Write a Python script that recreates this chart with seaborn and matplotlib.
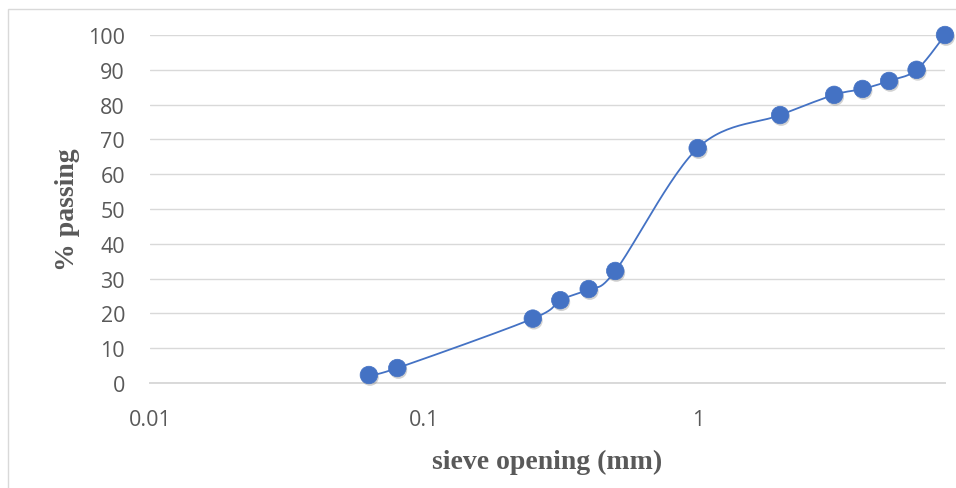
import numpy as np
import pandas as pd
import matplotlib
matplotlib.use('Agg')
import matplotlib.pyplot as plt
import matplotlib.patheffects as pe
from matplotlib.patches import Rectangle
from matplotlib.ticker import FixedLocator, FixedFormatter, NullLocator
import seaborn as sns

# sieve analysis data
sieve_mm = [0.063, 0.08, 0.25, 0.315, 0.4, 0.5, 1, 2, 3.15, 4, 5, 6.3, 8]
passing = [2.3, 4.3, 18.5, 23.8, 27.0, 32.2, 67.5, 77.0, 82.8, 84.5, 86.8, 90.0, 100.0]
xtick_vals = [0.01, 0.1, 1]
xtick_labels = ['0.01', '0.1', '1']
ytick_vals = list(range(0, 101, 10))

df = pd.DataFrame({'sieve': sieve_mm, 'passing': passing})

# smoothed connecting line (Catmull-Rom in log-x space, like Excel's smoothed line)
lx = np.log10(df['sieve'].values)
py = df['passing'].values
P = np.column_stack([lx, py])
P = np.vstack([P[0], P, P[-1]])
seg = []
t = np.linspace(0, 1, 30)[:, None]
for i in range(1, len(P) - 2):
    p0, p1, p2, p3 = P[i - 1], P[i], P[i + 1], P[i + 2]
    c = 0.5 * ((2 * p1) + (-p0 + p2) * t + (2 * p0 - 5 * p1 + 4 * p2 - p3) * t ** 2
               + (-p0 + 3 * p1 - 3 * p2 + p3) * t ** 3)
    seg.append(c)
curve = np.vstack(seg)
dfc = pd.DataFrame({'sieve': 10 ** curve[:, 0], 'passing': curve[:, 1]})

sns.set_style('white')
plt.rcParams['font.family'] = ['Open Sans', 'DejaVu Sans']

W, H = 956, 489
fig = plt.figure(figsize=(W / 100, H / 100), dpi=100)
ax = fig.add_axes([150 / W, 1 - 384 / H, (945 - 150) / W, 348 / H])

grey = '#595959'
blue = '#4472C4'

sns.lineplot(data=dfc, x='sieve', y='passing', sort=False, estimator=None,
             color=blue, linewidth=1.3, ax=ax, zorder=3)
sns.scatterplot(data=df, x='sieve', y='passing', color=blue, s=160,
                edgecolor=blue, linewidth=0.5, ax=ax, zorder=4, clip_on=False)
for coll in ax.collections:
    coll.set_path_effects([pe.SimplePatchShadow(offset=(0.8, -1.5), shadow_rgbFace='#7f7f7f', alpha=0.35),
                           pe.Normal()])

ax.set_xscale('log')
ax.set_xlim(0.01, 8)
ax.set_ylim(0, 100)
ax.xaxis.set_major_locator(FixedLocator(xtick_vals))
ax.xaxis.set_major_formatter(FixedFormatter(xtick_labels))
ax.xaxis.set_minor_locator(NullLocator())
ax.set_yticks(ytick_vals)

ax.grid(axis='y', color='#D9D9D9', linewidth=1.0)
ax.grid(axis='x', visible=False)
ax.set_axisbelow(True)
for s in ['top', 'right', 'left']:
    ax.spines[s].set_visible(False)
ax.spines['bottom'].set_color('#D9D9D9')
ax.spines['bottom'].set_linewidth(1.4)

ax.tick_params(axis='both', length=0, labelsize=15.5, labelcolor=grey)
ax.tick_params(axis='y', pad=18)
ax.tick_params(axis='x', pad=19)

lab_font = dict(family='Liberation Serif', weight='bold', size=20, color=grey)
ax.set_xlabel('sieve opening (mm)', labelpad=13, **lab_font)
ax.set_ylabel('% passing', labelpad=6, **lab_font)

# chart area border
fig.patches.append(Rectangle((7.5 / W, -0.2), 1.5, 1.2 - 9.5 / H, transform=fig.transFigure,
                             fill=False, edgecolor='#D9D9D9', linewidth=1.0))

fig.savefig('out.png', dpi=100)
plt.close()
